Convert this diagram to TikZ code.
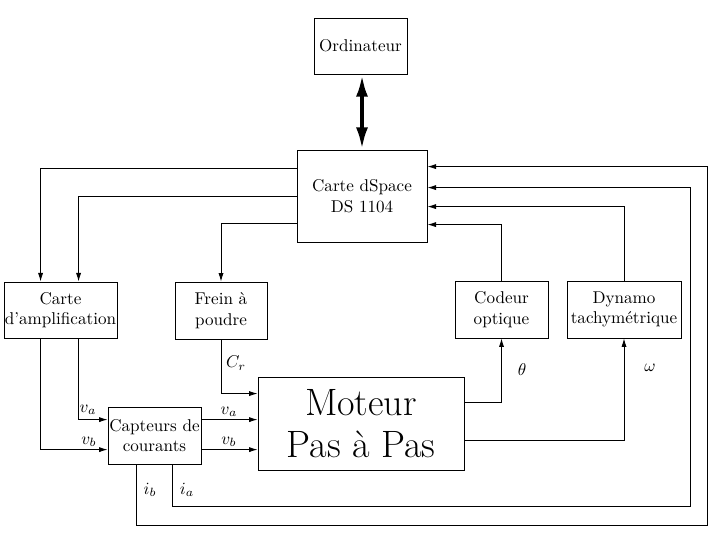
\documentclass[tikz,border=0pt]{standalone}
\usepackage{tikz}
\usetikzlibrary{positioning,arrows.meta,calc}

\begin{document}
\begin{tikzpicture}[x=0.585pt, y=-0.585pt,
  bloc/.style={rectangle, draw, inner sep=0pt, align=center, line width=0.5pt},
  fleche/.style={-{Latex[length=5pt,width=3pt]}, line width=0.5pt},
  liaison/.style={{Latex[length=13pt,width=7pt]}-{Latex[length=13pt,width=7pt]}, line width=2.3pt},
  etiq/.style={inner sep=0pt}
]
\useasboundingbox (0,0) rectangle (713,532);

% blocs
\node[bloc, minimum width=54.4pt, minimum height=32.8pt] (ordi) at (360.5,46) {Ordinateur};
\node[bloc, minimum width=76.1pt, minimum height=53.8pt] (dspace) at (362,196) {Carte dSpace\\DS 1104};
\node[bloc, minimum width=66.1pt, minimum height=32.8pt] (ampli) at (60.5,310) {Carte\\d'amplification};
\node[bloc, minimum width=53.8pt, minimum height=33.3pt] (frein) at (221,310.5) {Frein à\\poudre};
\node[bloc, minimum width=54.4pt, minimum height=33.3pt] (codeur) at (501.5,309.5) {Codeur\\optique};
\node[bloc, minimum width=66.7pt, minimum height=33.3pt] (dynamo) at (624,309.5) {Dynamo\\tachymétrique};
\node[bloc, minimum width=120.5pt, minimum height=54.4pt,
      font=\fontsize{22.3pt}{25pt}\selectfont] (moteur) at (361,423.5) {Moteur\\Pas à Pas};
\node[bloc, minimum width=54.4pt, minimum height=33.3pt] (capteurs) at (154.5,435.5) {Capteurs de\\courants};

% points de passage
\coordinate (va) at ($(capteurs.north east)+(0,13)$);
\coordinate (vb) at ($(capteurs.north east)+(0,43)$);
\coordinate (ib) at ($(capteurs.south west)+(29,0)$);
\coordinate (ia) at ($(capteurs.south west)+(65,0)$);
\coordinate (coinb) at (707,525);
\coordinate (coina) at (690,506);

% liaisons
\draw[liaison] (ordi.south -| dspace.north) -- (dspace.north);

\draw[fleche] ($(dspace.north west)+(0,19)$) -| ($(ampli.north west)+(37,0)$);
\draw[fleche] (dspace.west) -| ($(ampli.north west)+(75,0)$);
\draw[fleche] ($(dspace.north west)+(0,74)$) -| (frein.north);

\draw[fleche] (codeur.north) |- ($(dspace.north east)+(0,75)$);
\draw[fleche] (dynamo.north) |- ($(dspace.north east)+(0,57)$);

\draw[fleche] ($(ampli.south west)+(37,0)$) |- ($(capteurs.north west)+(0,43)$);
\draw[fleche] ($(ampli.south west)+(75,0)$) |- ($(capteurs.north west)+(0,13)$);
\draw[fleche] (va) -- (va -| moteur.west);
\draw[fleche] (vb) -- (vb -| moteur.west);
\draw[fleche] (frein.south) |- ($(moteur.north west)+(0,17)$);

\draw[fleche] ($(moteur.north east)+(0,26)$) -| (codeur.south);
\draw[fleche] ($(moteur.north east)+(0,64)$) -| (dynamo.south);

\draw[fleche] (ib) |- (coinb) |- ($(dspace.north east)+(0,17)$);
\draw[fleche] (ia) |- (coina) |- ($(dspace.north east)+(0,38)$);

% etiquettes
\node[etiq] (lcr) at (236,363) {$C_r$};
\node[etiq] (lva1) at (88,410) {$v_a$};
\node[etiq] (lvb1) at (89,442) {$v_b$};
\node[etiq] (lva2) at (229,412) {$v_a$};
\node[etiq] (lvb2) at (229,442) {$v_b$};
\node[etiq] (lib) at (150,490) {$i_b$};
\node[etiq] (lia) at (187,490) {$i_a$};
\node[etiq] (ltheta) at (522,370) {$\theta$};
\node[etiq] (lomega) at (650,368) {$\omega$};
\end{tikzpicture}
\end{document}
